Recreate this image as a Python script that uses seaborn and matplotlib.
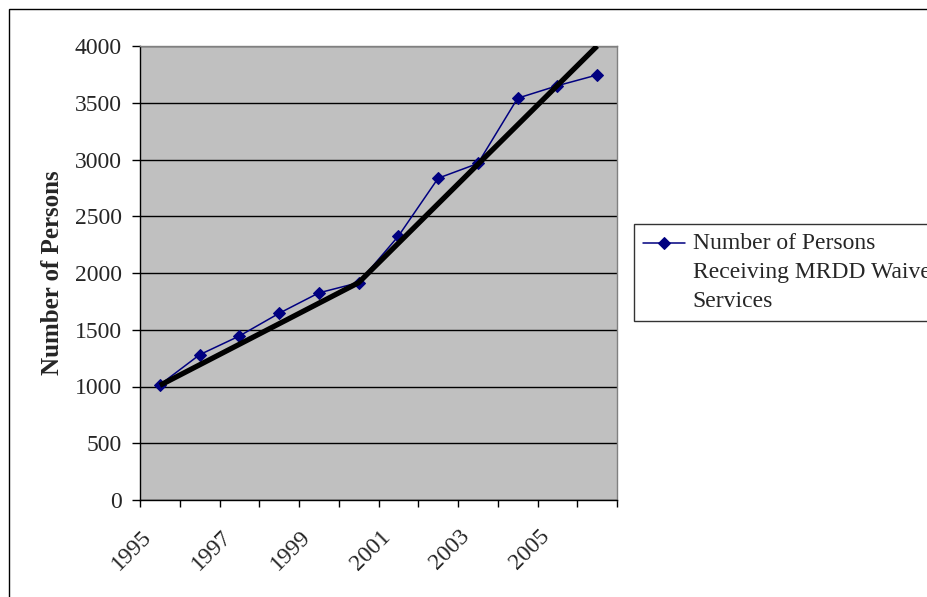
import matplotlib
matplotlib.use("Agg")
import matplotlib.pyplot as plt
from matplotlib.patches import Rectangle
from matplotlib.transforms import Affine2D
from matplotlib.legend_handler import HandlerLine2D
import seaborn as sns
import pandas as pd

years = [1995, 1996, 1997, 1998, 1999, 2000, 2001, 2002, 2003, 2004, 2005, 2006]
persons = [1015, 1280, 1445, 1645, 1825, 1915, 2325, 2835, 2965, 3540, 3650, 3745]
trend_years = [1995, 2000, 2006]
trend_values = [1010, 1915, 4000]
year_labels = ["1995", "1997", "1999", "2001", "2003", "2005"]
series_name = "Number of Persons\nReceiving MRDD Waiver\nServices"

sns.set_style("white")
plt.rcParams["font.family"] = ["Liberation Serif", "DejaVu Serif"]
FS = 17

df = pd.DataFrame({"pos": range(len(years)), "year": years, "persons": persons})
trend = pd.DataFrame({"pos": [years.index(y) for y in trend_years], "value": trend_values})


class FirstLineHandler(HandlerLine2D):
    """Legend handle aligned with the first line of a wrapped label."""

    def __init__(self, lift_px, **kw):
        super().__init__(**kw)
        self.lift_px = lift_px

    def create_artists(self, legend, orig_handle, xdescent, ydescent,
                       width, height, fontsize, trans):
        arts = super().create_artists(legend, orig_handle, xdescent, ydescent,
                                      width, height, fontsize, trans)
        lift = Affine2D().translate(0, self.lift_px)
        for a in arts:
            a.set_transform(a.get_transform() + lift)
        return arts


W, H = 927, 597
fig = plt.figure(figsize=(W / 100, H / 100), dpi=100)
fig.patch.set_facecolor("white")
ax = fig.add_axes([140 / W, 1 - 500 / H, 477 / W, 454 / H])
ax.set_facecolor("#C0C0C0")

sns.lineplot(data=df, x="pos", y="persons", ax=ax, color="#000080", lw=1.1,
             marker="D", markersize=6, markeredgecolor="#000080",
             label=series_name, zorder=3)
sns.lineplot(data=trend, x="pos", y="value", ax=ax, color="black", lw=3.8,
             solid_capstyle="butt", legend=False, zorder=4)

ax.set_xlim(-0.5, len(years) - 0.5)
ax.set_ylim(0, 4000)
ax.set_yticks(range(0, 4001, 500))
ax.yaxis.grid(True, color="black", lw=1)
ax.set_axisbelow(True)

# category boundaries as major ticks; rotated year labels end just left of their category
ax.set_xticks([i - 0.5 for i in range(len(years) + 1)])
ax.set_xticklabels([])
ax.set_xticks([years.index(int(y)) - 0.28 for y in year_labels], minor=True)
ax.set_xticklabels(year_labels, minor=True, rotation=45, ha="right",
                   va="center", rotation_mode="anchor", fontsize=FS)
ax.tick_params(axis="x", which="major", direction="out", length=5, width=1,
               color="black", bottom=True)
ax.tick_params(axis="x", which="minor", length=0, pad=24)
ax.tick_params(axis="y", direction="out", length=6, width=1, color="black",
               left=True, labelsize=FS, pad=7)

ax.set_xlabel("")
ax.set_ylabel("Number of Persons", fontsize=18, fontweight="bold", labelpad=8)

for side in ["left", "bottom"]:
    ax.spines[side].set_color("black")
    ax.spines[side].set_linewidth(1)
for side in ["top", "right"]:
    ax.spines[side].set_color("#808080")
    ax.spines[side].set_linewidth(1)

handles, labels = ax.get_legend_handles_labels()
leg = ax.legend(handles, labels, loc="upper left",
                bbox_to_anchor=(634 / W, 1 - 224 / H),
                bbox_transform=fig.transFigure, frameon=True, fancybox=False,
                fontsize=FS, handlelength=1.78, borderpad=0.4,
                handletextpad=0.3, borderaxespad=0, labelspacing=0.2,
                handler_map={handles[0]: FirstLineHandler(lift_px=29)})
leg.get_frame().set_edgecolor("black")
leg.get_frame().set_linewidth(1)
for t in leg.get_texts():
    t.set_linespacing(1.48)

# outer chart border
fig.patches.append(Rectangle((8.5 / W, -0.2), 2, 1.2 - 8.5 / H,
                             transform=fig.transFigure, fill=False,
                             edgecolor="black", lw=1))

fig.savefig("out.png", dpi=100)
